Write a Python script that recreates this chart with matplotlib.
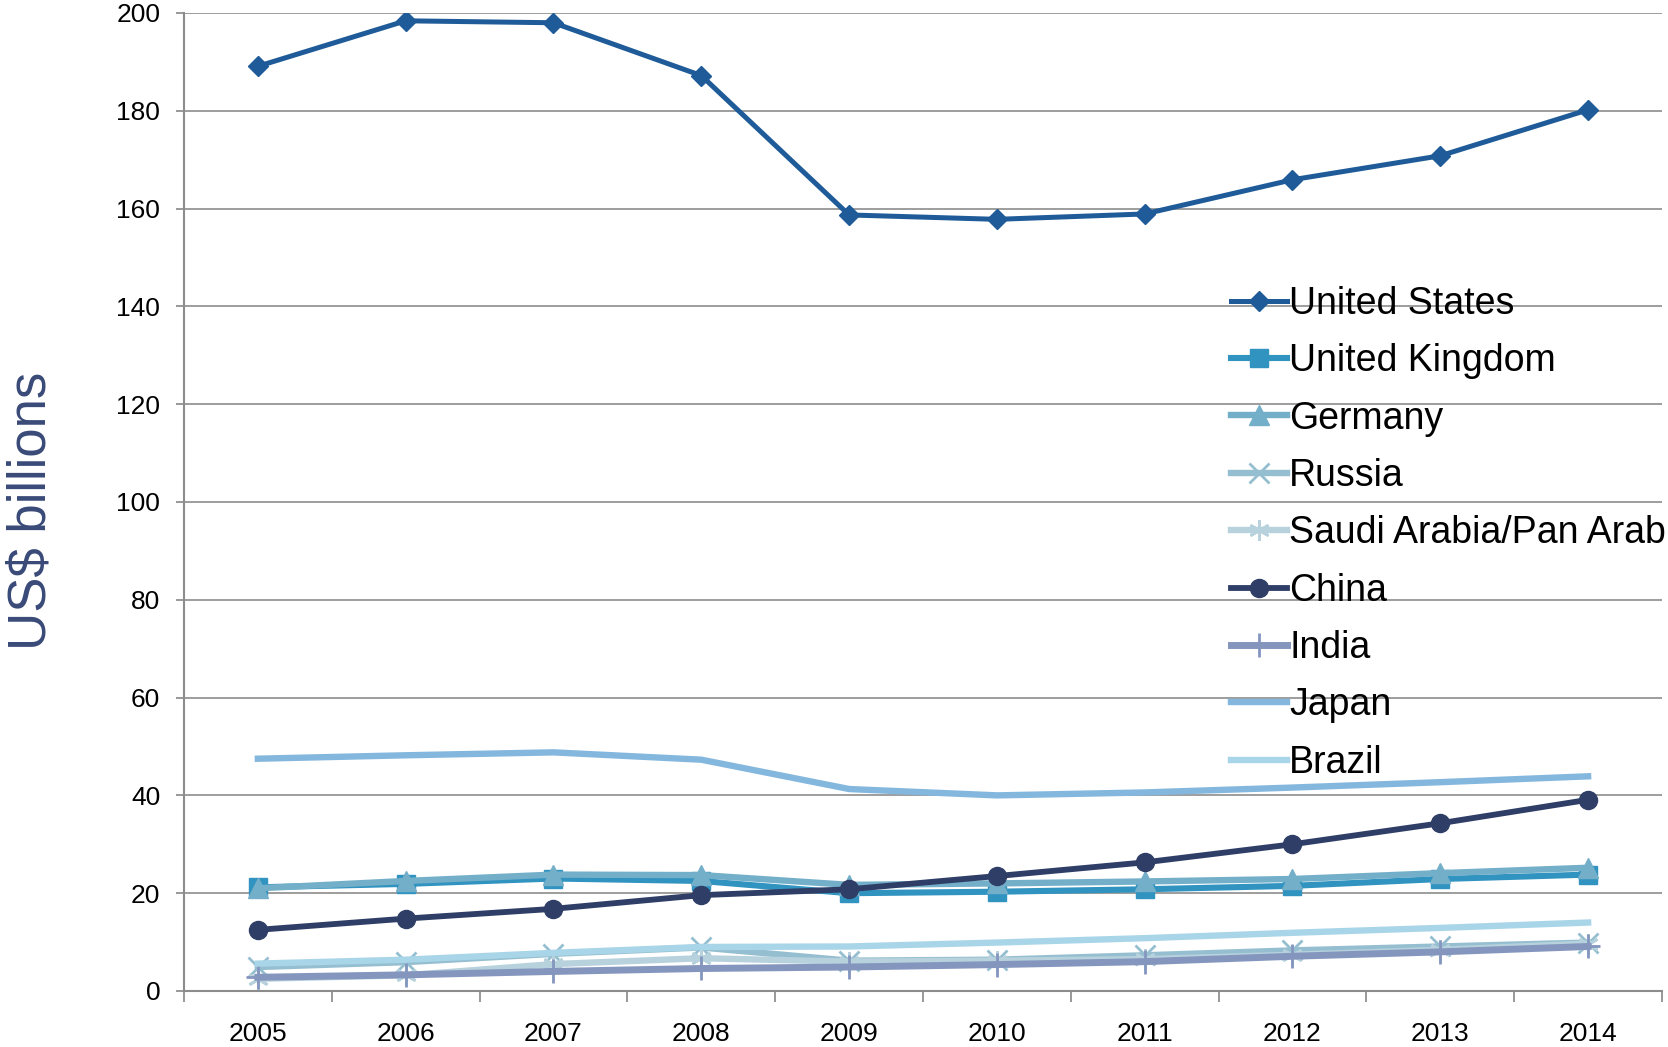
#!/usr/bin/env python3

import matplotlib
matplotlib.use("Agg")
import matplotlib.pyplot as plt
import numpy as np

plt.rcParams['font.family'] = ['Liberation Sans', 'DejaVu Sans']

years = ["2005", "2006", "2007", "2008", "2009", "2010", "2011", "2012", "2013", "2014"]

united_states = [189.1, 198.4, 198.0, 187.2, 158.7, 157.8, 158.9, 165.9, 170.8, 180.2]
united_kingdom = [21.2, 21.9, 23.0, 22.5, 20.0, 20.3, 20.8, 21.5, 22.9, 23.8]
germany = [21.0, 22.5, 23.8, 23.7, 21.7, 22.0, 22.4, 22.9, 24.1, 25.2]
russia = [4.9, 5.9, 7.6, 8.9, 6.2, 6.4, 7.3, 8.3, 9.1, 9.9]
saudi_arabia = [2.5, 3.2, 5.5, 6.7, 6.0, 6.2, 6.5, 7.4, 8.4, 9.7]
china = [12.5, 14.8, 16.8, 19.6, 20.8, 23.5, 26.3, 30.0, 34.3, 39.1]
india = [2.8, 3.3, 4.0, 4.6, 4.9, 5.4, 6.0, 7.1, 8.0, 9.1]
japan = [47.5, 48.2, 48.8, 47.3, 41.3, 40.0, 40.6, 41.6, 42.7, 43.9]
brazil = [5.6, 6.4, 7.8, 9.0, 9.1, 9.9, 10.8, 11.9, 12.9, 14.0]

names = ["United States", "United Kingdom", "Germany", "Russia",
         "Saudi Arabia/Pan Arab", "China", "India", "Japan", "Brazil"]
series = [united_states, united_kingdom, germany, russia, saudi_arabia,
          china, india, japan, brazil]
colors = ["#1F5B98", "#3193C0", "#74AFC9", "#95BFD0", "#B7D2DD",
          "#2F3E66", "#8496BE", "#84B7DD", "#A9D5E8"]
markers = ["D", "s", "^", "x", (6, 2, 0), "o", "+", None, None]
msizes = [10, 13, 14, 14, 15, 13, 17, 0, 0]
widths = [3.6, 4.4, 4.6, 4.6, 4.6, 4.2, 5.0, 4.6, 4.6]


def _main():
    fig = plt.figure(figsize=(16.68, 10.47), dpi=100)
    ax = fig.add_axes([0.1103, 0.0535, 0.8861, 0.9341])
    x = np.arange(len(years))
    for vals, name, c, m, ms, lw in zip(series, names, colors, markers, msizes, widths):
        ax.plot(x, vals, color=c, marker=m, markersize=ms, linewidth=lw,
                markeredgewidth=2 if m in ("x", "+", (6, 2, 0)) else 1,
                markeredgecolor=c, label=name, solid_joinstyle="round", zorder=3)

    ax.set_xlim(-0.5, len(years) - 0.5)
    ax.set_ylim(0, 200)
    ax.set_yticks(np.arange(0, 201, 20))
    ax.tick_params(axis="y", direction="out", length=6, width=1.2, color="#888888",
                   labelsize=19, pad=11)
    ax.set_xticks(np.arange(-0.5, len(years), 1.0))
    ax.set_xticklabels([])
    ax.set_xticks(x, minor=True)
    ax.set_xticklabels(years, minor=True)
    ax.tick_params(axis="x", which="major", direction="out", length=8, width=1.2,
                   color="#888888")
    ax.tick_params(axis="x", which="minor", length=0, labelsize=19, pad=22)
    ax.grid(axis="y", color="#8C8C8C", linewidth=1.2, zorder=0)
    ax.set_axisbelow(True)
    for s in ("top", "right"):
        ax.spines[s].set_visible(False)
    for s in ("left", "bottom"):
        ax.spines[s].set_color("#8C8C8C")
        ax.spines[s].set_linewidth(1.5)

    fig.text(0.019, 0.512, "US$ billions", rotation=90, fontsize=38,
             color="#394A78", ha="center", va="center")

    leg = ax.legend(loc="upper left", bbox_to_anchor=(0.738, 0.727),
                    bbox_transform=fig.transFigure, frameon=False, fontsize=27,
                    borderpad=0, borderaxespad=0, handlelength=1.5,
                    handletextpad=0.05, labelspacing=0.57)
    leg.set_zorder(5)

    fout = "out.png"
    fig.savefig(fout, dpi=100)
    print(f"Figure saved as {fout}")


if __name__ == '__main__':
    _main()
